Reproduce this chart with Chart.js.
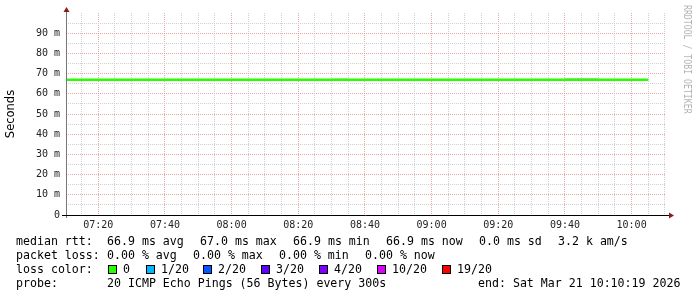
<!DOCTYPE html>
<html>
<head>
<meta charset="utf-8">
<script src="https://cdn.jsdelivr.net/npm/chart.js@4.4.1/dist/chart.umd.min.js"></script>
<style>
  body { margin: 0; background: #fff; }
  #wrap { position: relative; width: 697px; height: 297px; overflow: hidden; }
  #chart { position: absolute; left: 0; top: 0; }
  .t { position: absolute; font-family: "DejaVu Sans Mono", monospace; font-size: 11.6px; line-height: 14px; color: #000; white-space: pre; }
  .box { position: absolute; width: 7px; height: 7px; border: 1px solid #000; }
  #mark { position: absolute; left: 692px; top: 5px; font-family: "DejaVu Sans Mono", monospace; font-size: 10px; line-height: 10px; color: #b4b4b4; white-space: pre; transform-origin: 0 0; transform: rotate(90deg) scale(0.82, 1); }
</style>
</head>
<body>
<div id="wrap">
  <canvas id="chart" width="697" height="297"></canvas>

  <span class="t" style="left:16px;top:234px">median rtt:</span>
  <span class="t" style="left:107px;top:234px">66.9 ms avg</span>
  <span class="t" style="left:200px;top:234px">67.0 ms max</span>
  <span class="t" style="left:293px;top:234px">66.9 ms min</span>
  <span class="t" style="left:386px;top:234px">66.9 ms now</span>
  <span class="t" style="left:479px;top:234px">0.0 ms sd</span>
  <span class="t" style="left:558px;top:234px">3.2 k am/s</span>

  <span class="t" style="left:16px;top:248px">packet loss:</span>
  <span class="t" style="left:107px;top:248px">0.00 % avg</span>
  <span class="t" style="left:193px;top:248px">0.00 % max</span>
  <span class="t" style="left:279px;top:248px">0.00 % min</span>
  <span class="t" style="left:365px;top:248px">0.00 % now</span>

  <span class="t" style="left:16px;top:262px">loss color:</span>
  <div id="lossLegend"></div>

  <span class="t" style="left:16px;top:276px">probe:</span>
  <span class="t" style="left:107px;top:276px">20 ICMP Echo Pings (56 Bytes) every 300s</span>
  <span class="t" style="left:478px;top:276px">end: Sat Mar 21 10:10:19 2026</span>

  <div id="mark">RRDTOOL / TOBI OETIKER</div>
</div>
<script>
const times = ['07:10', '07:15', '07:20', '07:25', '07:30', '07:35', '07:40', '07:45', '07:50', '07:55',
               '08:00', '08:05', '08:10', '08:15', '08:20', '08:25', '08:30', '08:35', '08:40', '08:45',
               '08:50', '08:55', '09:00', '09:05', '09:10', '09:15', '09:20', '09:25', '09:30', '09:35',
               '09:40', '09:45', '09:50', '09:55', '10:00', '10:05'];
const medianRtt = [66.9, 66.9, 66.9, 66.9, 66.9, 66.9, 66.9, 66.9, 66.9, 66.9,
                   66.9, 66.9, 66.9, 66.9, 66.9, 67.0, 66.9, 66.9, 66.9, 66.9,
                   66.9, 66.9, 66.9, 66.9, 66.9, 66.9, 66.9, 66.9, 66.9, 66.9,
                   66.9, 66.9, 66.9, 66.9, 66.9, 66.9];
const smokeLow  = [66.9, 66.9, 66.9, 66.9, 66.9, 66.9, 66.9, 66.9, 66.9, 66.9,
                   66.9, 66.9, 66.9, 66.9, 66.9, 66.9, 66.9, 66.9, 66.9, 66.9,
                   66.9, 66.9, 66.9, 66.9, 66.9, 66.9, 66.9, 66.9, 66.9, 66.9,
                   66.9, 66.9, 66.9, 66.9, 66.9, 66.9];
const smokeHigh = [66.9, 66.9, 66.9, 66.9, 66.9, 66.9, 66.9, 66.9, 66.9, 66.9,
                   66.9, 66.9, 66.9, 66.9, 66.9, 67.0, 66.9, 67.6, 66.9, 66.9,
                   66.9, 66.9, 66.9, 66.9, 66.9, 66.9, 66.9, 66.9, 66.9, 66.9,
                   66.9, 67.8, 67.8, 66.9, 66.9, 66.9];
const lossLabels = ['0', '1/20', '2/20', '3/20', '4/20', '10/20', '19/20'];
const lossColors = ['#26ff00', '#00b8ff', '#0059ff', '#5e00ff', '#7e00ff', '#dd00ff', '#ff0000'];
const lossBoxX = [108, 146, 203, 261, 319, 377, 442];

const startSec = 7 * 3600 + 10 * 60 + 19;   // 07:10:19
const endSec = 10 * 3600 + 10 * 60 + 19;    // 10:10:19

function toSec(t) {
    const p = t.split(':');
    return (+p[0]) * 3600 + (+p[1]) * 60;
}
function pad(n) { return n < 10 ? '0' + n : '' + n; }

const pts = arr => arr.map((v, i) => ({ x: toSec(times[i]), y: v }));

// loss colour legend
const lossLegend = document.getElementById('lossLegend');
lossLabels.forEach((lbl, i) => {
    const b = document.createElement('div');
    b.className = 'box';
    b.style.left = lossBoxX[i] + 'px';
    b.style.top = '265px';
    b.style.background = lossColors[i];
    lossLegend.appendChild(b);
    const s = document.createElement('span');
    s.className = 't';
    s.style.left = (lossBoxX[i] + 15) + 'px';
    s.style.top = '262px';
    s.textContent = lbl;
    lossLegend.appendChild(s);
});

const minorGrid = '#d0d0d0';
const majorGrid = '#e8a8a8';

const rrdAxes = {
    id: 'rrdAxes',
    afterDatasetsDraw(chart) {
        const ctx = chart.ctx;
        const a = chart.chartArea;
        ctx.save();
        // y axis
        ctx.strokeStyle = '#777';
        ctx.lineWidth = 1;
        ctx.beginPath();
        ctx.moveTo(a.left + 0.5, a.bottom + 3);
        ctx.lineTo(a.left + 0.5, a.top - 3);
        ctx.stroke();
        // x axis
        ctx.strokeStyle = '#000';
        ctx.beginPath();
        ctx.moveTo(a.left - 4, a.bottom + 0.5);
        ctx.lineTo(a.right + 3, a.bottom + 0.5);
        ctx.stroke();
        // arrows
        ctx.fillStyle = '#8b1a1a';
        ctx.beginPath();
        ctx.moveTo(a.left + 0.5, a.top - 6);
        ctx.lineTo(a.left - 2.5, a.top - 1);
        ctx.lineTo(a.left + 3.5, a.top - 1);
        ctx.closePath();
        ctx.fill();
        ctx.beginPath();
        ctx.moveTo(a.right + 8, a.bottom + 0.5);
        ctx.lineTo(a.right + 3, a.bottom - 2.5);
        ctx.lineTo(a.right + 3, a.bottom + 3.5);
        ctx.closePath();
        ctx.fill();
        ctx.restore();
    }
};

new Chart(document.getElementById('chart'), {
    type: 'line',
    data: {
        datasets: [
            {
                label: 'median rtt',
                data: pts(medianRtt),
                borderColor: '#26ff00',
                borderWidth: 2.5,
                pointRadius: 0,
                stepped: 'after',
                fill: false
            },
            {
                label: 'smoke low',
                data: pts(smokeLow),
                borderWidth: 0,
                borderColor: 'rgba(0,0,0,0)',
                pointRadius: 0,
                stepped: 'after',
                fill: false
            },
            {
                label: 'smoke high',
                data: pts(smokeHigh),
                borderWidth: 0,
                borderColor: 'rgba(0,0,0,0)',
                backgroundColor: '#cccccc',
                pointRadius: 0,
                stepped: 'after',
                fill: 1
            }
        ]
    },
    options: {
        responsive: false,
        animation: false,
        layout: { padding: { left: 0, right: 31, top: 13, bottom: 62 } },
        plugins: {
            legend: { display: false },
            tooltip: { enabled: false }
        },
        scales: {
            x: {
                type: 'linear',
                min: startSec,
                max: endSec,
                afterFit: s => { s.height = 20; },
                // 5 minute grid, labels every 20 minutes
                afterBuildTicks: s => {
                    const ticks = [];
                    for (let v = Math.ceil(s.min / 300) * 300; v < s.max; v += 300) ticks.push({ value: v });
                    s.ticks = ticks;
                },
                border: { display: false, dash: [1, 1] },
                grid: {
                    drawTicks: false,
                    borderDash: [1, 1],
                    color: c => (c.tick && c.tick.value % 1200 === 0) ? majorGrid : minorGrid
                },
                ticks: {
                    autoSkip: false,
                    maxRotation: 0,
                    padding: 4,
                    color: '#222',
                    font: { family: 'DejaVu Sans Mono', size: 10 },
                    callback: v => {
                        if (v % 1200 !== 0) return '';
                        return pad(Math.floor(v / 3600)) + ':' + pad(Math.floor(v % 3600 / 60));
                    }
                }
            },
            y: {
                min: 0,
                max: 100,
                afterFit: s => { s.width = 66; },
                border: { display: false, dash: [1, 1] },
                grid: {
                    drawTicks: false,
                    borderDash: [1, 1],
                    color: c => {
                        if (!c.tick || c.tick.value === 0 || c.tick.value === 100) return 'rgba(0,0,0,0)';
                        return c.tick.value % 10 === 0 ? majorGrid : minorGrid;
                    }
                },
                title: {
                    display: true,
                    text: 'Seconds',
                    color: '#000',
                    padding: { top: 4, bottom: 0 },
                    font: { family: 'DejaVu Sans', size: 11.5 }
                },
                ticks: {
                    stepSize: 5,
                    autoSkip: false,
                    maxTicksLimit: 50,
                    padding: 6,
                    color: '#222',
                    font: { family: 'DejaVu Sans Mono', size: 10 },
                    callback: v => {
                        if (v === 0) return '0';
                        if (v % 10 !== 0 || v === 100) return '';
                        return v + ' m';
                    }
                }
            }
        }
    },
    plugins: [rrdAxes]
});
</script>
</body>
</html>
